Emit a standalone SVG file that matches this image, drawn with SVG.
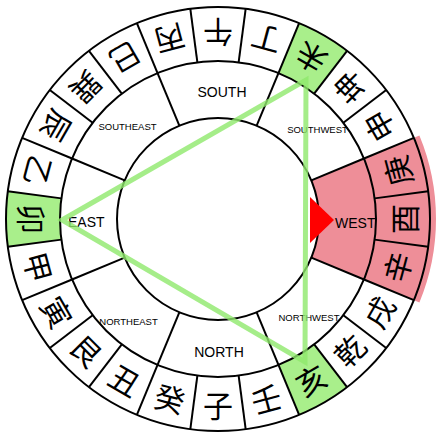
<svg xmlns="http://www.w3.org/2000/svg" xmlns:xlink="http://www.w3.org/1999/xlink" width="440" height="440" viewBox="0 0 440 440">
<style>
.ln{stroke:#000;stroke-width:2;fill:none}
.ch{font-family:"Noto Sans CJK SC","Noto Sans CJK TC",sans-serif;font-size:30px;text-anchor:middle;dominant-baseline:central;fill:#000}
.lb{font-family:"Liberation Sans",Arial,sans-serif;fill:#000}
.big{font-size:14px}
.sm{font-size:9.5px;text-anchor:middle}
.green{fill:#a9ef8b}
</style>
<defs>
<path id="cell" d="M -27.67 -210.19 A 212 212 0 0 1 27.67 -210.19 L 20.62 -156.65 A 158 158 0 0 0 -20.62 -156.65 Z"/>
<line id="tick" x1="0" y1="-158" x2="0" y2="-212"/>
<line id="div" x1="0" y1="-101" x2="0" y2="-158"/>
</defs>
<rect width="440" height="440" fill="#fff"/>

<g id="west-highlight">
<path transform="translate(218,219) rotate(90)" d="M -83.43 -201.41 A 218 218 0 0 1 83.43 -201.41 L 38.65 -93.31 A 101 101 0 0 0 -38.65 -93.31 Z" fill="#ee8e98"/>
</g>

<g id="green-cells">
<use xlink:href="#cell" class="green" transform="translate(218,219) rotate(30)"/>
<use xlink:href="#cell" class="green" transform="translate(218,219) rotate(150)"/>
<use xlink:href="#cell" class="green" transform="translate(218,219) rotate(270)"/>
</g>

<g id="frame" class="ln">
<circle cx="218" cy="219" r="212"/>
<circle cx="218" cy="219" r="158"/>
<circle cx="218" cy="219" r="101"/>
<g transform="translate(218,219)">
<use xlink:href="#tick" transform="rotate(7.5)"/>
<use xlink:href="#tick" transform="rotate(22.5)"/>
<use xlink:href="#tick" transform="rotate(37.5)"/>
<use xlink:href="#tick" transform="rotate(52.5)"/>
<use xlink:href="#tick" transform="rotate(67.5)"/>
<use xlink:href="#tick" transform="rotate(82.5)"/>
<use xlink:href="#tick" transform="rotate(97.5)"/>
<use xlink:href="#tick" transform="rotate(112.5)"/>
<use xlink:href="#tick" transform="rotate(127.5)"/>
<use xlink:href="#tick" transform="rotate(142.5)"/>
<use xlink:href="#tick" transform="rotate(157.5)"/>
<use xlink:href="#tick" transform="rotate(172.5)"/>
<use xlink:href="#tick" transform="rotate(187.5)"/>
<use xlink:href="#tick" transform="rotate(202.5)"/>
<use xlink:href="#tick" transform="rotate(217.5)"/>
<use xlink:href="#tick" transform="rotate(232.5)"/>
<use xlink:href="#tick" transform="rotate(247.5)"/>
<use xlink:href="#tick" transform="rotate(262.5)"/>
<use xlink:href="#tick" transform="rotate(277.5)"/>
<use xlink:href="#tick" transform="rotate(292.5)"/>
<use xlink:href="#tick" transform="rotate(307.5)"/>
<use xlink:href="#tick" transform="rotate(322.5)"/>
<use xlink:href="#tick" transform="rotate(337.5)"/>
<use xlink:href="#tick" transform="rotate(352.5)"/>
<use xlink:href="#div" transform="rotate(22.5)"/>
<use xlink:href="#div" transform="rotate(67.5)"/>
<use xlink:href="#div" transform="rotate(112.5)"/>
<use xlink:href="#div" transform="rotate(157.5)"/>
<use xlink:href="#div" transform="rotate(202.5)"/>
<use xlink:href="#div" transform="rotate(247.5)"/>
<use xlink:href="#div" transform="rotate(292.5)"/>
<use xlink:href="#div" transform="rotate(337.5)"/>
</g>
</g>

<g id="mountains">
<g id="m-wu" transform="translate(218,219) rotate(0)"><text class="ch" transform="translate(0,-185) rotate(180)">午</text></g>
<g id="m-ding" transform="translate(218,219) rotate(15)"><text class="ch" transform="translate(0,-185) rotate(180)">丁</text></g>
<g id="m-wei" transform="translate(218,219) rotate(30)"><text class="ch" transform="translate(0,-185) rotate(180)">未</text></g>
<g id="m-kun" transform="translate(218,219) rotate(45)"><text class="ch" transform="translate(0,-185) rotate(180)">坤</text></g>
<g id="m-shen" transform="translate(218,219) rotate(60)"><text class="ch" transform="translate(0,-185) rotate(180)">申</text></g>
<g id="m-geng" transform="translate(218,219) rotate(75)"><text class="ch" transform="translate(0,-185) rotate(180)">庚</text></g>
<g id="m-you" transform="translate(218,219) rotate(90)"><text class="ch" transform="translate(0,-185) rotate(180)">酉</text></g>
<g id="m-xin" transform="translate(218,219) rotate(105)"><text class="ch" transform="translate(0,-185) rotate(180)">辛</text></g>
<g id="m-xu" transform="translate(218,219) rotate(120)"><text class="ch" transform="translate(0,-185) rotate(180)">戌</text></g>
<g id="m-qian" transform="translate(218,219) rotate(135)"><text class="ch" transform="translate(0,-185) rotate(180)">乾</text></g>
<g id="m-hai" transform="translate(218,219) rotate(150)"><text class="ch" transform="translate(0,-185) rotate(180)">亥</text></g>
<g id="m-ren" transform="translate(218,219) rotate(165)"><text class="ch" transform="translate(0,-185) rotate(180)">壬</text></g>
<g id="m-zi" transform="translate(218,219) rotate(180)"><text class="ch" transform="translate(0,-185) rotate(180)">子</text></g>
<g id="m-gui" transform="translate(218,219) rotate(195)"><text class="ch" transform="translate(0,-185) rotate(180)">癸</text></g>
<g id="m-chou" transform="translate(218,219) rotate(210)"><text class="ch" transform="translate(0,-185) rotate(180)">丑</text></g>
<g id="m-gen" transform="translate(218,219) rotate(225)"><text class="ch" transform="translate(0,-185) rotate(180)">艮</text></g>
<g id="m-yin" transform="translate(218,219) rotate(240)"><text class="ch" transform="translate(0,-185) rotate(180)">寅</text></g>
<g id="m-jia" transform="translate(218,219) rotate(255)"><text class="ch" transform="translate(0,-185) rotate(180)">甲</text></g>
<g id="m-mao" transform="translate(218,219) rotate(270)"><text class="ch" transform="translate(0,-185) rotate(180)">卯</text></g>
<g id="m-yi" transform="translate(218,219) rotate(285)"><text class="ch" transform="translate(0,-185) rotate(180)">乙</text></g>
<g id="m-chen" transform="translate(218,219) rotate(300)"><text class="ch" transform="translate(0,-185) rotate(180)">辰</text></g>
<g id="m-xun" transform="translate(218,219) rotate(315)"><text class="ch" transform="translate(0,-185) rotate(180)">巽</text></g>
<g id="m-si" transform="translate(218,219) rotate(330)"><text class="ch" transform="translate(0,-185) rotate(180)">巳</text></g>
<g id="m-bing" transform="translate(218,219) rotate(345)"><text class="ch" transform="translate(0,-185) rotate(180)">丙</text></g>
</g>

<g id="sectors">
<g id="s-south"><text class="lb big" x="222" y="97" text-anchor="middle">SOUTH</text></g>
<g id="s-north"><text class="lb big" x="219" y="357" text-anchor="middle">NORTH</text></g>
<g id="s-east"><text class="lb big" x="68" y="227">EAST</text></g>
<g id="s-southeast"><text class="lb sm" x="127.5" y="129.5">SOUTHEAST</text></g>
<g id="s-southwest"><text class="lb sm" x="317.5" y="132.5">SOUTHWEST</text></g>
<g id="s-northeast"><text class="lb sm" x="128.5" y="324.5">NORTHEAST</text></g>
<g id="s-northwest"><text class="lb sm" x="309" y="320.5">NORTHWEST</text></g>
<g id="s-west">
<polygon points="310,197 310,243 334,220" fill="#ff0000"/>
<text class="lb big" x="335" y="228">WEST</text>
</g>
</g>

<g id="connectors">
<polygon points="62,220 306,80 305,362" fill="none" stroke="#8fe86c" stroke-opacity="0.8" stroke-width="5" stroke-linejoin="miter"/>
</g>
</svg>
